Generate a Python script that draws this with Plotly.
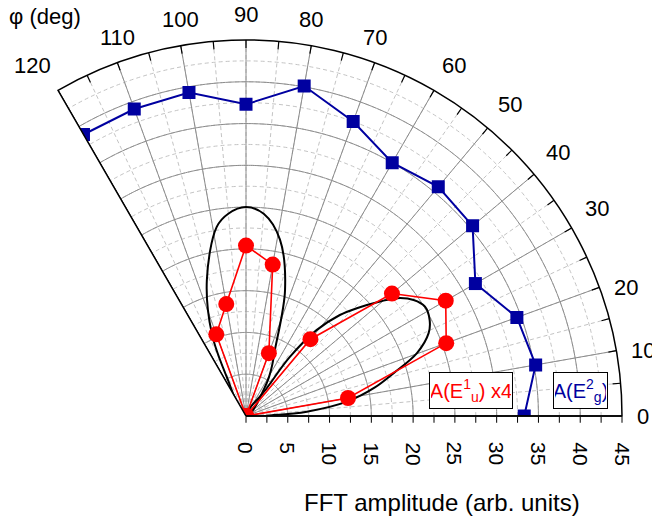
import numpy as np
import plotly.graph_objects as go

# ---------------- data ----------------
angles = [0, 10, 20, 30, 40, 50, 60, 70, 80, 90, 100, 110, 120]
eg2_amp = [33.3, 35.2, 34.5, 31.7, 35.4, 35.8, 35.0, 37.5, 40.1, 37.3, 39.3, 39.1, 38.9]
eu1_amp_x4 = [0, 12.4, 25.5, 27.6, 22.8, 12.0, 0, 8.0, 18.4, 20.4, 13.6, 10.4, 0]

# fitted lobes (black curves)
lobe1_theta = [90, 57.7, 62.0, 66.3, 72.8, 79.1, 85.0, 90.0, 95.0, 98.8, 106.1, 112.5, 116.2, 90]
lobe1_r = [0, 4.6, 6.5, 8.6, 15.8, 21.5, 24.3, 25.0, 24.3, 22.9, 16.9, 10.7, 5.2, 0]
lobe2_theta = [30, 2.0, 4.1, 8.1, 12.5, 16.2, 20.2, 24.4, 27.6, 31.4, 34.7, 38.0, 40.5, 44.2, 47.1, 50.6, 53.4, 53.2, 30]
lobe2_r = [0, 3.3, 7.3, 12.2, 15.8, 18.4, 21.8, 24.0, 24.8, 25.1, 24.4, 22.9, 21.1, 18.5, 16.5, 13.3, 8.8, 4.0, 0]

radial_ticks = [0, 5, 10, 15, 20, 25, 30, 35, 40, 45]
angular_ticks = [0, 10, 20, 30, 40, 50, 60, 70, 80, 90, 100, 110, 120]

R_MAX = 45
BLUE = "#0000a0"
RED = "#ff0000"
GRID_SOLID = "#8c8c8c"
GRID_DASH = "#c4c4c4"

W, H = 652, 520
# polar geometry (pixels): sector 0..120 fitted in this box
DOM_X = [58, 622]
DOM_Y_TOP, DOM_Y_BOT = 40, 416
R_PX = DOM_Y_BOT - DOM_Y_TOP
ORIGIN_X = DOM_X[0] + 0.5 * R_PX
ORIGIN_Y = DOM_Y_BOT
PX_PER_UNIT = R_PX / R_MAX

fig = go.Figure()

def grid_line(r, theta, color, width):
    fig.add_trace(go.Scatterpolar(r=r, theta=theta, mode="lines", cliponaxis=True,
                                  line=dict(color=color, width=width),
                                  hoverinfo="skip", showlegend=False))

# solid major grid (circles every 5, spokes every 10 deg)
arc = np.linspace(0, 120, 241)
for r in radial_ticks[1:-1]:
    grid_line([r] * len(arc), arc, GRID_SOLID, 1)
for a in angular_ticks[1:-1]:
    grid_line([0, R_MAX], [a, a], GRID_SOLID, 1)
# sector edge at 120 deg
grid_line([0, R_MAX], [120, 120], "black", 1.2)
# inner angular ticks every 5 deg
for a in range(5, 120, 5):
    grid_line([R_MAX - 8 / PX_PER_UNIT, R_MAX], [a, a], "black", 1.2)

# black fitted lobes
for th, rr in ((lobe1_theta, lobe1_r), (lobe2_theta, lobe2_r)):
    fig.add_trace(go.Scatterpolar(r=rr, theta=th, mode="lines", cliponaxis=True,
                                  line=dict(color="black", width=2, shape="spline"),
                                  hoverinfo="skip", showlegend=False))

# red series
fig.add_trace(go.Scatterpolar(r=eu1_amp_x4, theta=angles, mode="lines+markers",
                              cliponaxis=True,
                              line=dict(color=RED, width=1.6),
                              marker=dict(symbol="circle", size=16, color=RED),
                              showlegend=False))
# blue series
fig.add_trace(go.Scatterpolar(r=eg2_amp, theta=angles, mode="lines+markers",
                              cliponaxis=True,
                              line=dict(color=BLUE, width=2),
                              marker=dict(symbol="square", size=13, color=BLUE),
                              showlegend=False))

r_tickvals = list(np.arange(0, 45.01, 2.5))
a_tickvals = list(range(0, 121, 5))

ANG_FONT = 22
annotations = [
    dict(text="φ (deg)", x=45 / W, y=1 - 16 / H, xref="paper", yref="paper",
         xanchor="center", yanchor="middle", showarrow=False,
         font=dict(size=22, color="black")),
    dict(text="FFT amplitude (arb. units)", x=442 / W, y=1 - 502 / H,
         xref="paper", yref="paper", xanchor="center", yanchor="middle",
         showarrow=False, font=dict(size=24, color="black")),
    dict(text="A(E<sup>1</sup><sub>u</sub>) x4", x=471 / W, y=1 - 390.5 / H,
         xref="paper", yref="paper", xanchor="center", yanchor="middle",
         showarrow=False, width=80, height=33,
         font=dict(size=20, color=RED), bordercolor="black", borderwidth=1,
         borderpad=1, bgcolor="white"),
    dict(text="A(E<sup>2</sup><sub>g</sub>)", x=580.5 / W, y=1 - 390.5 / H,
         xref="paper", yref="paper", xanchor="center", yanchor="middle",
         showarrow=False, width=51, height=33,
         font=dict(size=20, color=BLUE), bordercolor="black", borderwidth=1,
         borderpad=1, bgcolor="white"),
]
# radial tick labels, rotated, placed along the radial axis scale
for v in radial_ticks:
    annotations.append(dict(
        text=str(v), x=(ORIGIN_X + v * PX_PER_UNIT) / W, y=1 - 440 / H,
        xref="paper", yref="paper", xanchor="center", yanchor="top",
        textangle=90, showarrow=False, font=dict(size=21, color="black")))
# angular tick labels, placed just outside the arc
for a in angular_ticks:
    t = np.deg2rad(a)
    c, s = np.cos(t), np.sin(t)
    px = ORIGIN_X + R_PX * c
    py = ORIGIN_Y - R_PX * s
    hx = len(str(a)) * 0.556 * ANG_FONT / 2
    hy = 8
    sx = np.sign(c) if abs(c) > 0.45 else 0
    sy = 1 if s > 0.45 else 0
    cx = px + sx * (15 * abs(c) + hx)
    cy = py - sy * (6 + 12 * s + hy)
    annotations.append(dict(
        text=str(a), x=cx / W, y=1 - cy / H, xref="paper", yref="paper",
        xanchor="center", yanchor="middle", showarrow=False,
        font=dict(size=ANG_FONT, color="black")))

fig.update_layout(
    width=W, height=H,
    margin=dict(l=0, r=0, t=0, b=0),
    paper_bgcolor="white",
    font=dict(family="Arial, Liberation Sans, sans-serif", color="black"),
    polar=dict(
        domain=dict(x=[DOM_X[0] / W, DOM_X[1] / W],
                    y=[1 - DOM_Y_BOT / H, 1 - DOM_Y_TOP / H]),
        sector=[0, 120],
        bgcolor="white",
        radialaxis=dict(
            range=[0, R_MAX], tickvals=r_tickvals, showticklabels=False,
            angle=0, side="clockwise",
            ticks="outside", ticklen=6, tickcolor="black",
            showline=True, linecolor="black", linewidth=1.5,
            showgrid=True, gridcolor=GRID_DASH, griddash="4px,3px", gridwidth=1,
        ),
        angularaxis=dict(
            direction="counterclockwise", rotation=0,
            tickvals=a_tickvals, showticklabels=False, ticks="",
            showline=True, linecolor="black", linewidth=1.5,
            showgrid=True, gridcolor=GRID_DASH, griddash="4px,3px", gridwidth=1,
        ),
    ),
    annotations=annotations,
)

fig.write_html("out.html")
